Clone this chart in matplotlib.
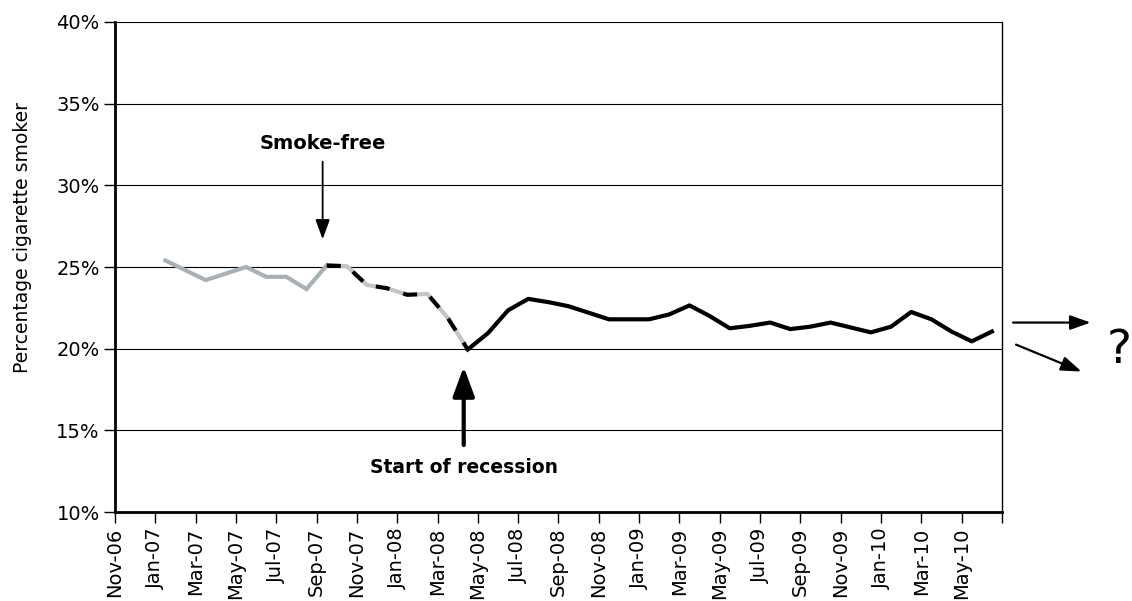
import matplotlib
matplotlib.use('Agg')
import matplotlib.pyplot as plt

# month index 0 = Nov-06, one unit per month, points sit mid-month
tick_labels = ['Nov-06', 'Jan-07', 'Mar-07', 'May-07', 'Jul-07', 'Sep-07', 'Nov-07',
               'Jan-08', 'Mar-08', 'May-08', 'Jul-08', 'Sep-08', 'Nov-08', 'Jan-09',
               'Mar-09', 'May-09', 'Jul-09', 'Sep-09', 'Nov-09', 'Jan-10', 'Mar-10', 'May-10']

# before smoke-free (Jan-07 .. Sep-07)
pre_months = list(range(2, 11))
pre_vals = [25.4, 24.8, 24.2, 24.6, 25.0, 24.4, 24.4, 23.65, 25.1]

# smoke-free to recession (Sep-07 .. Apr-08)
mid_months = list(range(10, 18))
mid_vals = [25.1, 25.05, 23.9, 23.7, 23.3, 23.35, 21.9, 19.95]

# recession (Apr-08 .. Jun-10)
post_months = list(range(17, 44))
post_vals = [19.95, 20.95, 22.35, 23.05, 22.85, 22.6, 22.2, 21.8, 21.8, 21.8,
             22.1, 22.65, 22.0, 21.25, 21.4, 21.6, 21.2, 21.35, 21.6, 21.3,
             21.0, 21.35, 22.25, 21.8, 21.05, 20.45, 21.05]

fig = plt.figure(figsize=(11.32, 6.01), dpi=100, facecolor='w')
ax = fig.add_axes([0.1016, 0.148, 0.7835, 0.8154])

ax.plot([m + 0.5 for m in pre_months], pre_vals, color='#a9b1b6', lw=3, solid_joinstyle='miter')
ax.plot([m + 0.5 for m in mid_months], mid_vals, color='black', lw=3,
        linestyle=(0, (3.4, 3.4)), gapcolor='#c4c4c4')
ax.plot([m + 0.5 for m in post_months], post_vals, color='black', lw=3)

ax.set_xlim(0, 44)
ax.set_ylim(10, 40)
ax.set_xticks(list(range(0, 44, 2)) + [44])
ax.set_xticklabels(tick_labels + [''], rotation=90, fontsize=14)
ax.set_yticks(range(10, 41, 5))
ax.set_yticklabels(['%d%%' % v for v in range(10, 41, 5)], fontsize=14)
ax.tick_params(direction='out', length=8, width=1, color='black', pad=3)
ax.yaxis.grid(True, color='black', lw=0.8)
ax.set_axisbelow(True)
for s in ['left', 'bottom']:
    ax.spines[s].set_linewidth(2)
ax.spines['top'].set_visible(False)
ax.spines['right'].set_linewidth(1)
ax.set_ylabel('Percentage cigarette smoker', fontsize=13.5, va='center')
ax.yaxis.set_label_coords(-0.104, 0.56)

# annotations
ax.text(10.3, 32.56, 'Smoke-free', ha='center', va='center', fontsize=14, fontweight='bold')
ax.annotate('', xy=(10.3, 26.7), xytext=(10.3, 31.45),
            arrowprops=dict(arrowstyle='-|>,head_length=0.6,head_width=0.22', mutation_scale=20,
                            lw=1.3, color='black', shrinkA=0, shrinkB=0))
ax.text(17.3, 12.7, 'Start of recession', ha='center', va='center', fontsize=13.5, fontweight='bold')
ax.annotate('', xy=(17.3, 18.9), xytext=(17.3, 14.1),
            arrowprops=dict(arrowstyle='-|>,head_length=0.9,head_width=0.33', mutation_scale=20,
                            lw=3, color='black', shrinkA=0, shrinkB=0))

ax.annotate('', xy=(48.4, 21.6), xytext=(44.55, 21.6), annotation_clip=False,
            arrowprops=dict(arrowstyle='-|>,head_length=0.62,head_width=0.22', mutation_scale=20,
                            lw=1.6, color='black', shrinkA=0, shrinkB=0))
ax.annotate('', xy=(47.95, 18.6), xytext=(44.7, 20.25), annotation_clip=False,
            arrowprops=dict(arrowstyle='-|>,head_length=0.62,head_width=0.22', mutation_scale=20,
                            lw=1.6, color='black', shrinkA=0, shrinkB=0))
ax.text(49.8, 19.9, '?', ha='center', va='center', fontsize=34, clip_on=False)

fig.savefig('out.png', dpi=100)
